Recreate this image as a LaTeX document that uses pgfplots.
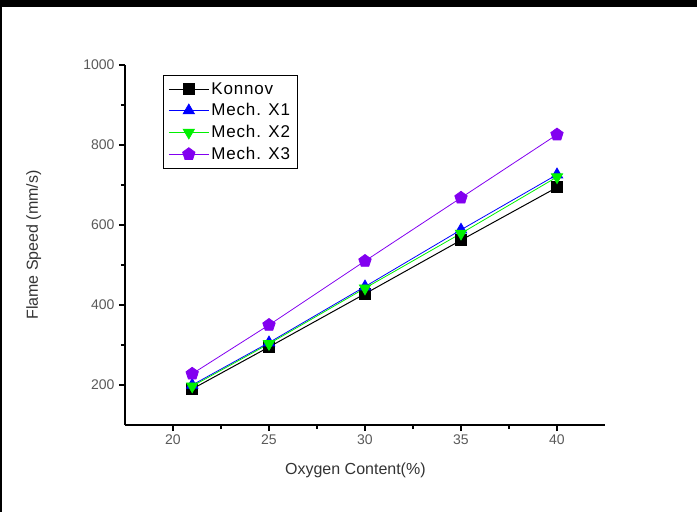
\documentclass[border=0pt]{standalone}
\usepackage{pgfplots}
\pgfplotsset{compat=1.18}
\usepackage{fontspec}
\setmainfont{Liberation Sans}
\usetikzlibrary{plotmarks}
\definecolor{tickgray}{RGB}{90,90,90}
\definecolor{mgreen}{RGB}{0,240,0}
\definecolor{mpurple}{RGB}{130,0,240}
\begin{document}
\begin{tikzpicture}[x=1pt,y=1pt]
\useasboundingbox (0,0) rectangle (697,512);
\fill[black] (0,505) rectangle (697,512);
\fill[black] (0,0) rectangle (2,512);
\begin{axis}[
  at={(125pt,87pt)}, anchor=south west,
  scale only axis, width=480pt, height=360pt,
  xmin=17.5, xmax=42.5, ymin=100, ymax=1000,
  axis x line=bottom, axis y line=left,
  axis line style={line width=1.3pt,-},
  xtick={20,25,30,35,40}, ytick={200,400,600,800,1000},
  minor x tick num=1, minor y tick num=1,
  tick align=outside,
  major tick length=6pt, minor tick length=4pt,
  tick style={line width=1.2pt,black},
  ticklabel style={font=\fontsize{14}{16}\selectfont, text=tickgray},
  yticklabel style={xshift=-1pt},
  /pgf/number format/assume math mode=true,
  /pgf/number format/set thousands separator={},
  xlabel={Oxygen Content(\%)},
  ylabel={Flame Speed (mm/s)},
  label style={font=\fontsize{16}{18}\selectfont, text=black!80},
  xlabel style={at={(axis description cs:0.48,-0.125)}, anchor=center},
  ylabel style={at={(axis description cs:-0.19,0.5)}, anchor=center},
  legend style={at={(0.079,0.972)}, anchor=north west, draw=black, line width=0.8pt,
    font=\fontsize{17}{19}\addfontfeature{LetterSpace=5}\selectfont, row sep=4pt,
    inner xsep=5pt, inner ysep=5pt},
  legend cell align=left,
  legend image code/.code={\draw[mark repeat=2,mark phase=2] plot coordinates {(0pt,0pt) (20pt,0pt) (40pt,0pt)};},
]
\addplot[black, line width=1pt, mark=square*, mark size=5.5pt, mark options={solid,fill=black}]
  coordinates {(21,190) (25,295) (30,428) (35,562) (40,694)};
\addlegendentry{Konnov}
\addplot[blue, line width=0.8pt, mark=triangle*, mark size=6.5pt, mark options={solid,fill=blue}]
  coordinates {(21,200) (25,306) (30,446) (35,588) (40,726)};
\addlegendentry{Mech. X1}
\addplot[mgreen, line width=0.8pt, mark=triangle*, mark size=6.5pt, mark options={solid,fill=mgreen,rotate=180}]
  coordinates {(21,197) (25,303) (30,442) (35,579) (40,720)};
\addlegendentry{Mech. X2}
\addplot[mpurple, line width=0.8pt, mark=pentagon*, mark size=6.5pt, mark options={solid,fill=mpurple}]
  coordinates {(21,228) (25,350) (30,510) (35,668) (40,826)};
\addlegendentry{Mech. X3}
\end{axis}
\end{tikzpicture}
\end{document}
